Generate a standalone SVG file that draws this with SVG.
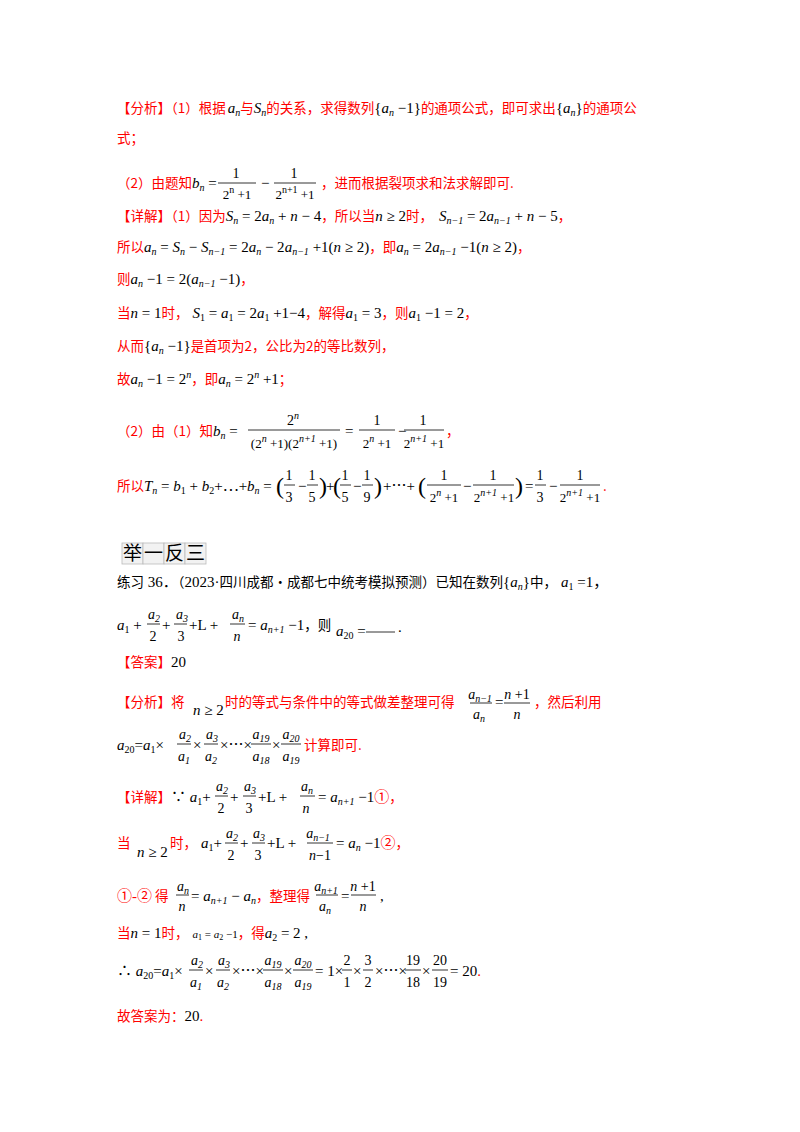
<svg xmlns="http://www.w3.org/2000/svg" width="800" height="1132" viewBox="0 0 800 1132">
<style>
text{font-family:"Liberation Serif","Noto Sans CJK SC",serif;font-size:15px;fill:#000}
.r{fill:#ff0000;font-family:"Noto Sans CJK SC",sans-serif;font-size:13.5px}
.b{fill:#000;font-family:"Noto Sans CJK SC",sans-serif;font-size:13.5px}
.i{font-style:italic}
.s{font-size:10px}
.f{font-size:14px;text-anchor:middle}
.d{font-size:13px;text-anchor:middle}
.p{font-size:24px;font-weight:100}
line{stroke:#000;stroke-width:0.8}
</style>
<rect width="800" height="1132" fill="#fff"/>
<g id="p1">
<text x="117" y="113"><tspan class="r">【分析】（1）根据</tspan><tspan class="i" dx="2">a</tspan><tspan class="s i" dy="3">n</tspan><tspan class="r" dy="-3">与</tspan><tspan class="i">S</tspan><tspan class="s i" dy="3">n</tspan><tspan class="r" dy="-3">的关系，求得数列</tspan><tspan>{</tspan><tspan class="i">a</tspan><tspan class="s i" dy="3">n</tspan><tspan dy="-3"> −1}</tspan><tspan class="r">的通项公式，即可求出</tspan><tspan>{</tspan><tspan class="i">a</tspan><tspan class="s i" dy="3">n</tspan><tspan dy="-3">}</tspan><tspan class="r">的通项公</tspan></text>
<text x="117" y="143" class="r">式；</text>
<text x="117" y="188"><tspan class="r">（2）由题知</tspan><tspan class="i">b</tspan><tspan class="s i" dy="3">n</tspan><tspan dy="-3"> =</tspan></text>
<text x="236" y="178" class="f">1</text><line x1="218" y1="183" x2="256" y2="183"/><text x="237" y="199" class="d">2<tspan class="s" dy="-6">n</tspan><tspan dy="6"> +1</tspan></text>
<text x="261" y="188">−</text>
<text x="294" y="178" class="f">1</text><line x1="274" y1="183" x2="316" y2="183"/><text x="295" y="199" class="d">2<tspan class="s" dy="-6">n+1</tspan><tspan dy="6"> +1</tspan></text>
<text x="321" y="188" class="r">，进而根据裂项求和法求解即可.</text>
<text x="117" y="221"><tspan class="r">【详解】（1）因为</tspan><tspan class="i">S</tspan><tspan class="s i" dy="3">n</tspan><tspan dy="-3"> = 2</tspan><tspan class="i">a</tspan><tspan class="s i" dy="3">n</tspan><tspan dy="-3"> + </tspan><tspan class="i">n</tspan><tspan> − 4</tspan><tspan class="r">，所以当</tspan><tspan class="i">n</tspan><tspan> ≥ 2</tspan><tspan class="r">时，</tspan><tspan class="i" dx="6">S</tspan><tspan class="s i" dy="3">n−1</tspan><tspan dy="-3"> = 2</tspan><tspan class="i">a</tspan><tspan class="s i" dy="3">n−1</tspan><tspan dy="-3"> + </tspan><tspan class="i">n</tspan><tspan> − 5</tspan><tspan class="r">，</tspan></text>
<text x="117" y="252"><tspan class="r">所以</tspan><tspan class="i">a</tspan><tspan class="s i" dy="3">n</tspan><tspan dy="-3"> = </tspan><tspan class="i">S</tspan><tspan class="s i" dy="3">n</tspan><tspan dy="-3"> − </tspan><tspan class="i">S</tspan><tspan class="s i" dy="3">n−1</tspan><tspan dy="-3"> = 2</tspan><tspan class="i">a</tspan><tspan class="s i" dy="3">n</tspan><tspan dy="-3"> − 2</tspan><tspan class="i">a</tspan><tspan class="s i" dy="3">n−1</tspan><tspan dy="-3"> +1(</tspan><tspan class="i">n</tspan><tspan> ≥ 2)</tspan><tspan class="r">，即</tspan><tspan class="i">a</tspan><tspan class="s i" dy="3">n</tspan><tspan dy="-3"> = 2</tspan><tspan class="i">a</tspan><tspan class="s i" dy="3">n−1</tspan><tspan dy="-3"> −1(</tspan><tspan class="i">n</tspan><tspan> ≥ 2)</tspan><tspan class="r">，</tspan></text>
<text x="117" y="284"><tspan class="r">则</tspan><tspan class="i">a</tspan><tspan class="s i" dy="3">n</tspan><tspan dy="-3"> −1 = 2(</tspan><tspan class="i">a</tspan><tspan class="s i" dy="3">n−1</tspan><tspan dy="-3"> −1)</tspan><tspan class="r">，</tspan></text>
<text x="117" y="318"><tspan class="r">当</tspan><tspan class="i">n</tspan><tspan> = 1</tspan><tspan class="r">时，</tspan><tspan class="i" dx="4">S</tspan><tspan class="s" dy="3">1</tspan><tspan dy="-3"> = </tspan><tspan class="i">a</tspan><tspan class="s" dy="3">1</tspan><tspan dy="-3"> = 2</tspan><tspan class="i">a</tspan><tspan class="s" dy="3">1</tspan><tspan dy="-3"> +1−4</tspan><tspan class="r">，解得</tspan><tspan class="i">a</tspan><tspan class="s" dy="3">1</tspan><tspan dy="-3"> = 3</tspan><tspan class="r">，则</tspan><tspan class="i">a</tspan><tspan class="s" dy="3">1</tspan><tspan dy="-3"> −1 = 2</tspan><tspan class="r">，</tspan></text>
<text x="117" y="351"><tspan class="r">从而</tspan><tspan>{</tspan><tspan class="i">a</tspan><tspan class="s i" dy="3">n</tspan><tspan dy="-3"> −1}</tspan><tspan class="r">是首项为2，公比为2的等比数列，</tspan></text>
<text x="117" y="384"><tspan class="r">故</tspan><tspan class="i">a</tspan><tspan class="s i" dy="3">n</tspan><tspan dy="-3"> −1 = 2</tspan><tspan class="s i" dy="-6">n</tspan><tspan class="r" dy="6">，即</tspan><tspan class="i">a</tspan><tspan class="s i" dy="3">n</tspan><tspan dy="-3"> = 2</tspan><tspan class="s i" dy="-6">n</tspan><tspan dy="6"> +1</tspan><tspan class="r">；</tspan></text>
<text x="117" y="436"><tspan class="r">（2）由（1）知</tspan><tspan class="i">b</tspan><tspan class="s i" dy="3">n</tspan><tspan dy="-3"> =</tspan></text>
<text x="293" y="425" class="f">2<tspan class="s i" dy="-6">n</tspan></text><line x1="248" y1="430" x2="340" y2="430"/><text x="294" y="448" class="d">(2<tspan class="s i" dy="-6">n</tspan><tspan dy="6"> +1)(2</tspan><tspan class="s i" dy="-6">n+1</tspan><tspan dy="6"> +1)</tspan></text>
<text x="345" y="436">=</text>
<text x="377" y="425" class="f">1</text><line x1="359" y1="430" x2="395" y2="430"/><text x="377" y="448" class="d">2<tspan class="s i" dy="-6">n</tspan><tspan dy="6"> +1</tspan></text>
<text x="398" y="436">−</text>
<text x="423" y="425" class="f">1</text><line x1="404" y1="430" x2="444" y2="430"/><text x="424" y="448" class="d">2<tspan class="s i" dy="-6">n+1</tspan><tspan dy="6"> +1</tspan></text>
<text x="446" y="436" class="r">，</text>
<text x="117" y="491"><tspan class="r">所以</tspan><tspan class="i">T</tspan><tspan class="s i" dy="3">n</tspan><tspan dy="-3"> = </tspan><tspan class="i">b</tspan><tspan class="s" dy="3">1</tspan><tspan dy="-3"> + </tspan><tspan class="i">b</tspan><tspan class="s" dy="3">2</tspan><tspan dy="-3">+⋯+</tspan><tspan class="i">b</tspan><tspan class="s i" dy="3">n</tspan><tspan dy="-3"> =</tspan></text>
<text x="276" y="494" class="p">(</text>
<text x="289" y="480" class="f">1</text><line x1="284" y1="485" x2="295" y2="485"/><text x="289" y="502" class="f">3</text>
<text x="298" y="491">−</text>
<text x="312" y="480" class="f">1</text><line x1="307" y1="485" x2="318" y2="485"/><text x="312" y="502" class="f">5</text>
<text x="319" y="494" class="p">)</text>
<text x="326" y="491">+</text>
<text x="333" y="494" class="p">(</text>
<text x="345" y="480" class="f">1</text><line x1="340" y1="485" x2="351" y2="485"/><text x="345" y="502" class="f">5</text>
<text x="353" y="491">−</text>
<text x="367" y="480" class="f">1</text><line x1="362" y1="485" x2="373" y2="485"/><text x="367" y="502" class="f">9</text>
<text x="374" y="494" class="p">)</text>
<text x="383" y="491">+⋯+</text>
<text x="418" y="494" class="p">(</text>
<text x="444" y="480" class="f">1</text><line x1="427" y1="485" x2="461" y2="485"/><text x="444" y="502" class="d">2<tspan class="s i" dy="-6">n</tspan><tspan dy="6"> +1</tspan></text>
<text x="463" y="491">−</text>
<text x="493" y="480" class="f">1</text><line x1="473" y1="485" x2="514" y2="485"/><text x="494" y="502" class="d">2<tspan class="s i" dy="-6">n+1</tspan><tspan dy="6"> +1</tspan></text>
<text x="515" y="494" class="p">)</text>
<text x="525" y="491">=</text>
<text x="540" y="480" class="f">1</text><line x1="535" y1="485" x2="546" y2="485"/><text x="540" y="502" class="f">3</text>
<text x="549" y="491">−</text>
<text x="580" y="480" class="f">1</text><line x1="560" y1="485" x2="600" y2="485"/><text x="580" y="502" class="d">2<tspan class="s i" dy="-6">n+1</tspan><tspan dy="6"> +1</tspan></text>
<text x="603" y="491" class="r">.</text>
</g>
<g id="p2">
<rect x="122" y="543" width="21" height="21" fill="#f2f2f2" stroke="#bbb" stroke-width="0.8"/>
<rect x="143" y="543" width="21" height="21" fill="#f2f2f2" stroke="#bbb" stroke-width="0.8"/>
<rect x="164" y="543" width="21" height="21" fill="#f2f2f2" stroke="#bbb" stroke-width="0.8"/>
<rect x="185" y="543" width="21" height="21" fill="#f2f2f2" stroke="#bbb" stroke-width="0.8"/>
<text x="123" y="560" class="b" style="font-size:19px">举</text><text x="144" y="560" class="b" style="font-size:19px">一</text><text x="165" y="560" class="b" style="font-size:19px">反</text><text x="186" y="560" class="b" style="font-size:19px">三</text>
<text x="117" y="587"><tspan class="b">练习</tspan><tspan> 36．</tspan><tspan class="b">（</tspan><tspan>2023·</tspan><tspan class="b">四川成都·成都七中统考模拟预测）已知在数列</tspan><tspan>{</tspan><tspan class="i">a</tspan><tspan class="s i" dy="3">n</tspan><tspan dy="-3">}</tspan><tspan class="b">中，</tspan><tspan class="i" dx="4">a</tspan><tspan class="s" dy="3">1</tspan><tspan dy="-3"> =1，</tspan></text>
<text x="117" y="630"><tspan class="i">a</tspan><tspan class="s" dy="3">1</tspan><tspan dy="-3"> +</tspan></text>
<text x="154" y="619" class="f i">a<tspan class="s" dy="3">2</tspan></text><line x1="147" y1="624" x2="160" y2="624"/><text x="153" y="641" class="f">2</text>
<text x="162" y="630">+</text>
<text x="182" y="619" class="f i">a<tspan class="s" dy="3">3</tspan></text><line x1="174" y1="624" x2="187" y2="624"/><text x="181" y="641" class="f">3</text>
<text x="189" y="630">+L  +</text>
<text x="238" y="619" class="f i">a<tspan class="s" dy="3">n</tspan></text><line x1="230" y1="624" x2="245" y2="624"/><text x="237" y="641" class="f i">n</text>
<text x="248" y="630"><tspan>= </tspan><tspan class="i">a</tspan><tspan class="s i" dy="3">n+1</tspan><tspan dy="-3"> −1</tspan><tspan class="b">，则</tspan></text>
<text x="336" y="636"><tspan class="i">a</tspan><tspan class="s" dy="3">20</tspan><tspan dy="-3"> =</tspan></text>
<line x1="366" y1="632" x2="395" y2="632"/><text x="398" y="632">.</text>
<text x="117" y="667"><tspan class="r">【答案】</tspan><tspan>20</tspan></text>
<text x="117" y="707" class="r">【分析】将</text>
<text x="193" y="715"><tspan class="i">n</tspan><tspan> ≥ 2</tspan></text>
<text x="225" y="707" class="r">时的等式与条件中的等式做差整理可得</text>
<text x="480" y="699" class="f i">a<tspan class="s" dy="3">n−1</tspan></text><line x1="470" y1="703" x2="492" y2="703"/><text x="479" y="719" class="f i">a<tspan class="s" dy="3">n</tspan></text>
<text x="495" y="707">=</text>
<text x="517" y="699" class="f"><tspan class="i">n</tspan> +1</text><line x1="504" y1="703" x2="530" y2="703"/><text x="517" y="719" class="f i">n</text>
<text x="534" y="707" class="r">，然后利用</text>
<text x="117" y="750"><tspan class="i">a</tspan><tspan class="s" dy="3">20</tspan><tspan dy="-3">=</tspan><tspan class="i">a</tspan><tspan class="s" dy="3">1</tspan><tspan dy="-3">×</tspan></text>
<text x="185" y="739" class="f i">a<tspan class="s" dy="3">2</tspan></text><line x1="177" y1="744" x2="191" y2="744"/><text x="184" y="761" class="f i">a<tspan class="s" dy="3">1</tspan></text>
<text x="193" y="750">×</text>
<text x="212" y="739" class="f i">a<tspan class="s" dy="3">3</tspan></text><line x1="204" y1="744" x2="218" y2="744"/><text x="211" y="761" class="f i">a<tspan class="s" dy="3">2</tspan></text>
<text x="220" y="750">×⋯×</text>
<text x="261" y="739" class="f i">a<tspan class="s" dy="3">19</tspan></text><line x1="251" y1="744" x2="271" y2="744"/><text x="261" y="761" class="f i">a<tspan class="s" dy="3">18</tspan></text>
<text x="272" y="750">×</text>
<text x="291" y="739" class="f i">a<tspan class="s" dy="3">20</tspan></text><line x1="281" y1="744" x2="301" y2="744"/><text x="291" y="761" class="f i">a<tspan class="s" dy="3">19</tspan></text>
<text x="304" y="750" class="r">计算即可.</text>
</g>
<g id="p3">
<text x="117" y="802"><tspan class="r">【详解】</tspan><tspan>∵ </tspan><tspan class="i">a</tspan><tspan class="s" dy="3">1</tspan><tspan dy="-3">+</tspan></text>
<text x="222" y="791" class="f i">a<tspan class="s" dy="3">2</tspan></text><line x1="215" y1="796" x2="228" y2="796"/><text x="221" y="813" class="f">2</text>
<text x="230" y="802">+</text>
<text x="250" y="791" class="f i">a<tspan class="s" dy="3">3</tspan></text><line x1="243" y1="796" x2="256" y2="796"/><text x="249" y="813" class="f">3</text>
<text x="258" y="802">+L  +</text>
<text x="307" y="791" class="f i">a<tspan class="s" dy="3">n</tspan></text><line x1="300" y1="796" x2="315" y2="796"/><text x="306" y="813" class="f i">n</text>
<text x="318" y="802"><tspan>= </tspan><tspan class="i">a</tspan><tspan class="s i" dy="3">n+1</tspan><tspan dy="-3"> −1</tspan><tspan fill="#ff0000">①</tspan><tspan class="r">，</tspan></text>
<text x="117" y="848" class="r">当</text>
<text x="137" y="857"><tspan class="i">n</tspan><tspan> ≥ 2</tspan></text>
<text x="170" y="848"><tspan class="r">时，</tspan><tspan class="i" dx="4">a</tspan><tspan class="s" dy="3">1</tspan><tspan dy="-3">+</tspan></text>
<text x="232" y="838" class="f i">a<tspan class="s" dy="3">2</tspan></text><line x1="225" y1="843" x2="238" y2="843"/><text x="231" y="860" class="f">2</text>
<text x="240" y="848">+</text>
<text x="259" y="838" class="f i">a<tspan class="s" dy="3">3</tspan></text><line x1="252" y1="843" x2="265" y2="843"/><text x="258" y="860" class="f">3</text>
<text x="267" y="848">+L  +</text>
<text x="318" y="838" class="f i">a<tspan class="s" dy="3">n−1</tspan></text><line x1="307" y1="843" x2="333" y2="843"/><text x="320" y="860" class="f"><tspan class="i">n</tspan>−1</text>
<text x="336" y="848"><tspan>= </tspan><tspan class="i">a</tspan><tspan class="s i" dy="3">n</tspan><tspan dy="-3"> −1</tspan><tspan fill="#ff0000">②</tspan><tspan class="r">，</tspan></text>
<text x="117" y="901"><tspan fill="#ff0000">①-②</tspan><tspan class="r"> 得</tspan></text>
<text x="183" y="891" class="f i">a<tspan class="s" dy="3">n</tspan></text><line x1="176" y1="895" x2="189" y2="895"/><text x="182" y="911" class="f i">n</text>
<text x="191" y="901"><tspan>= </tspan><tspan class="i">a</tspan><tspan class="s i" dy="3">n+1</tspan><tspan dy="-3"> − </tspan><tspan class="i">a</tspan><tspan class="s i" dy="3">n</tspan><tspan class="r" dy="-3">，整理得</tspan></text>
<text x="326" y="891" class="f i">a<tspan class="s" dy="3">n+1</tspan></text><line x1="316" y1="895" x2="338" y2="895"/><text x="325" y="911" class="f i">a<tspan class="s" dy="3">n</tspan></text>
<text x="341" y="901">=</text>
<text x="363" y="891" class="f"><tspan class="i">n</tspan> +1</text><line x1="351" y1="895" x2="376" y2="895"/><text x="363" y="911" class="f i">n</text>
<text x="380" y="901">,</text>
<text x="117" y="938"><tspan class="r">当</tspan><tspan class="i">n</tspan><tspan> = 1</tspan><tspan class="r">时，</tspan><tspan class="i" dx="4" style="font-size:11px">a</tspan><tspan style="font-size:8px" dy="2">1</tspan><tspan style="font-size:11px" dy="-2"> = </tspan><tspan class="i" style="font-size:11px">a</tspan><tspan style="font-size:8px" dy="2">2</tspan><tspan style="font-size:11px" dy="-2"> −1</tspan><tspan class="r">，得</tspan><tspan class="i">a</tspan><tspan class="s" dy="3">2</tspan><tspan dy="-3"> = 2 ,</tspan></text>
<text x="117" y="976"><tspan>∴ </tspan><tspan class="i">a</tspan><tspan class="s" dy="3">20</tspan><tspan dy="-3">=</tspan><tspan class="i">a</tspan><tspan class="s" dy="3">1</tspan><tspan dy="-3">×</tspan></text>
<text x="197" y="965" class="f i">a<tspan class="s" dy="3">2</tspan></text><line x1="189" y1="970" x2="203" y2="970"/><text x="196" y="987" class="f i">a<tspan class="s" dy="3">1</tspan></text>
<text x="205" y="976">×</text>
<text x="224" y="965" class="f i">a<tspan class="s" dy="3">3</tspan></text><line x1="216" y1="970" x2="230" y2="970"/><text x="223" y="987" class="f i">a<tspan class="s" dy="3">2</tspan></text>
<text x="232" y="976">×⋯×</text>
<text x="273" y="965" class="f i">a<tspan class="s" dy="3">19</tspan></text><line x1="263" y1="970" x2="283" y2="970"/><text x="273" y="987" class="f i">a<tspan class="s" dy="3">18</tspan></text>
<text x="284" y="976">×</text>
<text x="303" y="965" class="f i">a<tspan class="s" dy="3">20</tspan></text><line x1="293" y1="970" x2="313" y2="970"/><text x="303" y="987" class="f i">a<tspan class="s" dy="3">19</tspan></text>
<text x="315" y="976">= 1×</text>
<text x="347" y="965" class="f">2</text><line x1="342" y1="970" x2="352" y2="970"/><text x="347" y="987" class="f">1</text>
<text x="353" y="976">×</text>
<text x="368" y="965" class="f">3</text><line x1="363" y1="970" x2="373" y2="970"/><text x="368" y="987" class="f">2</text>
<text x="375" y="976">×⋯×</text>
<text x="413" y="965" class="f">19</text><line x1="405" y1="970" x2="421" y2="970"/><text x="413" y="987" class="f">18</text>
<text x="422" y="976">×</text>
<text x="440" y="965" class="f">20</text><line x1="432" y1="970" x2="448" y2="970"/><text x="440" y="987" class="f">19</text>
<text x="450" y="976">= 20<tspan fill="#ff0000">.</tspan></text>
<text x="117" y="1021"><tspan class="r">故答案为：</tspan><tspan>20</tspan><tspan fill="#ff0000">.</tspan></text>
</g>
</svg>
